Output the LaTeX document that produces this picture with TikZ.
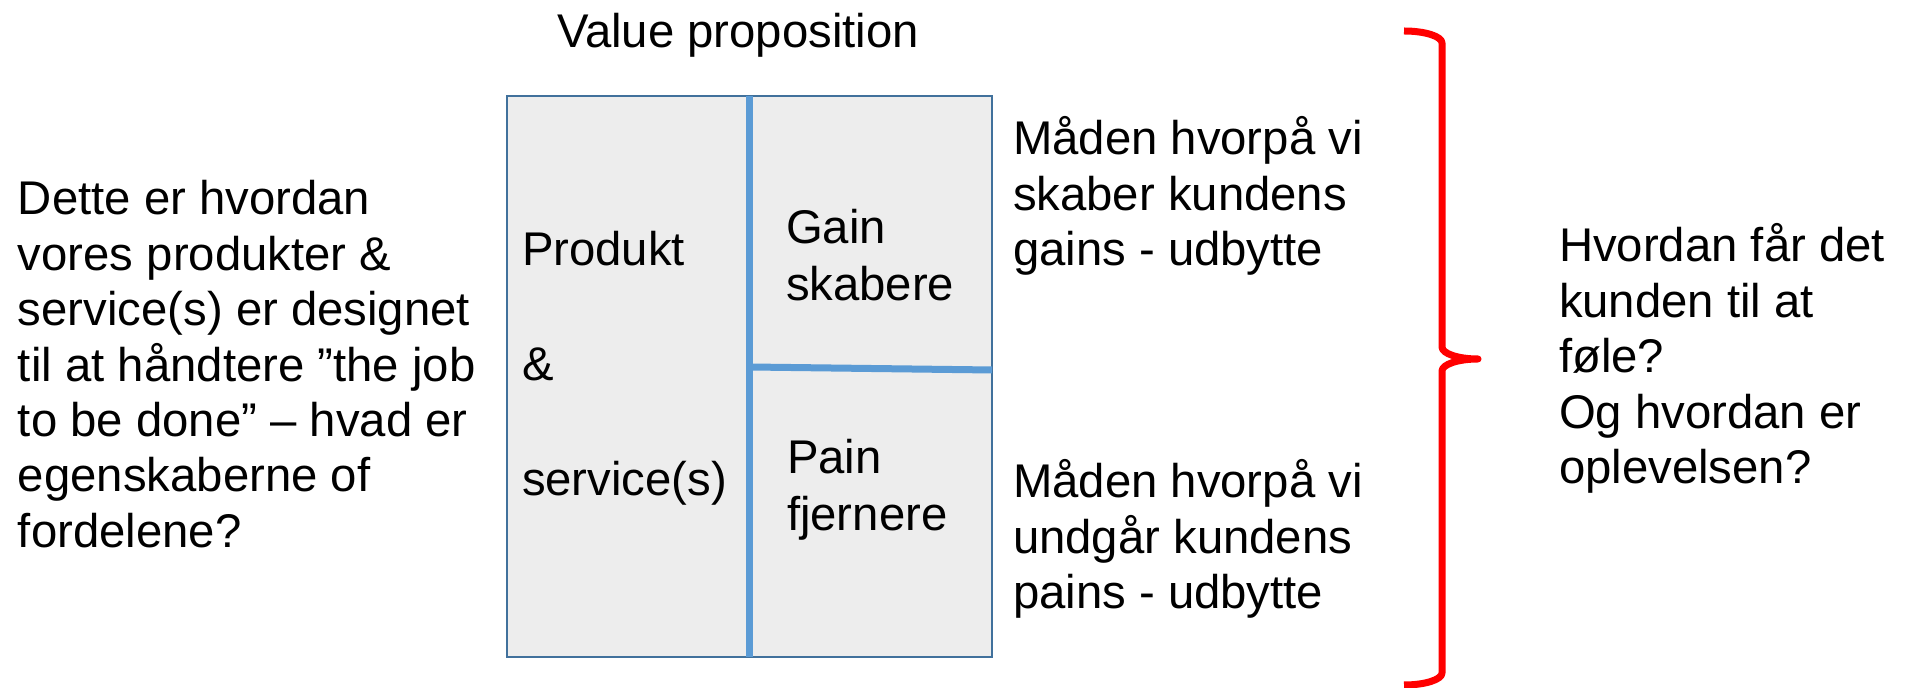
\documentclass[tikz,border=0pt]{standalone}
\usepackage{fontspec}
\setmainfont{Liberation Sans}
\definecolor{boxedge}{HTML}{41719C}
\definecolor{dividerblue}{HTML}{5B9BD5}
\definecolor{boxfill}{HTML}{EDEDED}
\definecolor{bracered}{HTML}{FF0000}
% left-aligned block of lines whose reference point is the first baseline
\newcommand{\txtlines}[1]{\begin{tabular}[t]{@{}l@{}}#1\end{tabular}}

\begin{document}
\begin{tikzpicture}[x=0.5pt,y=-0.5pt,
  every node/.style={inner sep=0pt, outer sep=0pt},
  label text/.style={anchor=base west, font=\fontsize{23.65pt}{27.7pt}\selectfont},
  canvas box/.style={draw=boxedge, line width=1pt, fill=boxfill,
    minimum width=242.5pt, minimum height=280.5pt},
  divider line/.style={draw=dividerblue, line width=3.5pt},
  brace line/.style={draw=bracered, line width=3.5pt, line join=round}]

\useasboundingbox (0,0) rectangle (1906,688);

% value proposition canvas
\node[canvas box] (vp) at (749.5,376.5) {};
\coordinate (hl) at (750,367);
\coordinate (hr) at (992,370);
\draw[divider line] (vp.north) -- (vp.south);
\draw[divider line] (hl) -- (hr);

\node[label text] (title) at (557,48) {Value proposition};

\node[label text] (prod) at (522,266)
  {\txtlines{Produkt\\[29.8pt] \&\\[29.8pt] service(s)}};
\node[label text] (gain) at (786,244)
  {\txtlines{Gain\\[0.8pt] skabere}};
\node[label text] (pain) at (787,474)
  {\txtlines{Pain\\[0.8pt] fjernere}};

% explanations
\node[label text] (left) at (18,215)
  {\txtlines{Dette er hvordan\\ vores produkter \&\\ service(s) er designet\\
   til at håndtere ”the job\\ to be done” – hvad er\\ egenskaberne of\\ fordelene?}};
\node[label text] (gaintxt) at (1013,155)
  {\txtlines{Måden hvorpå vi\\ skaber kundens\\ gains - udbytte}};
\node[label text] (paintxt) at (1013,498)
  {\txtlines{Måden hvorpå vi\\ undgår kundens\\ pains - udbytte}};
\node[label text] (feel) at (1559,262)
  {\txtlines{Hvordan får det\\ kunden til at\\ føle?\\ Og hvordan er\\ oplevelsen?}};

% right curly brace
\coordinate (btop) at (1404,31);
\coordinate (btip) at (1478,359);
\coordinate (bbot) at (1404,685);
\draw[brace line] (btop) .. controls (1425,31) and (1442,36.4) .. (1442,43)
  -- (1442,347) .. controls (1442,353.6) and (1458,359) .. (btip)
  .. controls (1458,359) and (1442,364.4) .. (1442,371)
  -- (1442,673) .. controls (1442,679.6) and (1425,685) .. (bbot);
\end{tikzpicture}
\end{document}
